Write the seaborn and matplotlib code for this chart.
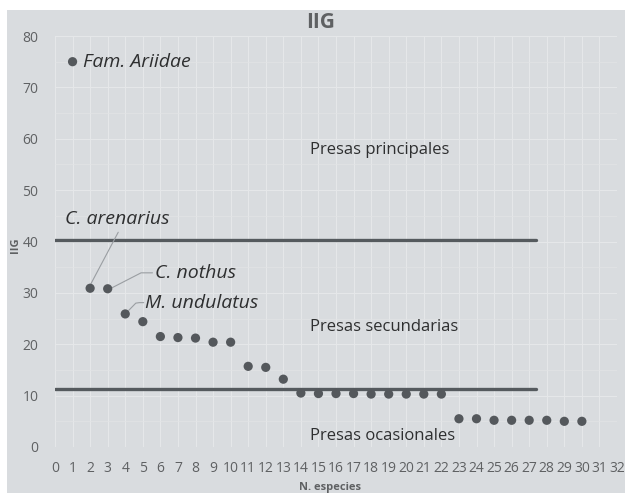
import matplotlib
matplotlib.use("Agg")
import matplotlib.pyplot as plt
import seaborn as sns
import pandas as pd
from matplotlib.patches import Rectangle

# Data
especies = list(range(1, 31))
iig = [75.0, 30.9, 30.8, 25.9, 24.4, 21.5, 21.3, 21.2, 20.4, 20.4,
       15.7, 15.5, 13.2, 10.5, 10.4, 10.4, 10.4, 10.3, 10.3, 10.3,
       10.3, 10.3, 5.5, 5.5, 5.2, 5.2, 5.2, 5.2, 5.0, 5.0]
umbral_principal = 40.3
umbral_ocasional = 11.3
umbral_xmax = 27.4
x_ticks = list(range(0, 33))
y_ticks = list(range(0, 81, 10))

df = pd.DataFrame({"N. especies": especies, "IIG": iig})

sns.set_theme(style="white")
plt.rcParams["font.family"] = ["Open Sans", "DejaVu Sans"]

BG = "#d9dcdf"
DARK = "#5f6163"
TXT = "#2e2f30"

fig = plt.figure(figsize=(6.25, 4.93), dpi=100, facecolor="white")
bgrect = Rectangle((7 / 625, 0), 1 - 7 / 625, 1 - 10 / 493,
                   transform=fig.transFigure, facecolor=BG,
                   edgecolor="none", zorder=-10)
fig.patches.append(bgrect)
ax = fig.add_axes([55 / 625, 1 - 447 / 493, (617 - 55) / 625, (447 - 36) / 493])
ax.set_zorder(1)
ax.set_facecolor(BG)

ax.set_xlim(0, 32)
ax.set_ylim(0, 80)
ax.set_xticks(x_ticks)
ax.set_yticks(y_ticks)
ax.set_yticks([5, 15, 25, 35, 45, 55, 65, 75], minor=True)
ax.grid(True, which="major", color="#e6e8ea", linewidth=0.7)
ax.grid(True, which="minor", axis="y", color="#e2e4e6", linewidth=0.5)
ax.set_axisbelow(True)
for s in ax.spines.values():
    s.set_visible(False)
ax.tick_params(axis="both", which="both", length=0, colors=DARK, labelsize=10)
ax.tick_params(axis="x", pad=10)
ax.tick_params(axis="y", pad=12)

# threshold lines
ax.plot([0, umbral_xmax], [umbral_principal, umbral_principal], color="#555a5e", lw=2.4, zorder=2)
ax.plot([0, umbral_xmax], [umbral_ocasional, umbral_ocasional], color="#555a5e", lw=2.4, zorder=2)

sns.scatterplot(data=df, x="N. especies", y="IIG", ax=ax, color="#54585c",
                s=44, edgecolor="none", zorder=3, legend=False)

ax.set_xlabel("N. especies", fontsize=8, color=DARK, fontweight="bold")
ax.set_ylabel("IIG", fontsize=8, color=DARK, fontweight="bold")
ax.xaxis.set_label_coords(0.49, -0.085)
ax.yaxis.set_label_coords(-0.06, 0.49)
ax.set_title("IIG", fontsize=15, fontweight="bold", color=DARK, pad=6)
ax.title.set_position((0.472, 1.0))

# category labels
ax.text(14.5, 57.8, "Presas principales", fontsize=12, color=TXT, va="center")
ax.text(14.5, 23.3, "Presas secundarias", fontsize=12, color=TXT, va="center")
ax.text(14.5, 2.1, "Presas ocasionales", fontsize=12, color=TXT, va="center")

# species annotations
ax.text(1.6, 75, "Fam. Ariidae", fontsize=14, style="italic", color=TXT, va="center")
ax.text(0.55, 44.4, "C. arenarius", fontsize=14, style="italic", color=TXT, va="center")
ax.text(5.7, 33.9, "C. nothus", fontsize=14, style="italic", color=TXT, va="center")
ax.text(5.1, 28.1, "M. undulatus", fontsize=14, style="italic", color=TXT, va="center")

lc = "#9a9ea2"
ax.plot([2.05, 3.6], [31.8, 41.8], color=lc, lw=0.8, zorder=2)
ax.plot([3.25, 4.9, 5.55], [31.0, 33.9, 33.9], color=lc, lw=0.8, zorder=2)
ax.plot([4.2, 4.6, 4.8, 5.05], [26.6, 28.0, 28.1, 28.1], color=lc, lw=0.8, zorder=2)

fig.savefig("out.png", dpi=100, facecolor="white")
